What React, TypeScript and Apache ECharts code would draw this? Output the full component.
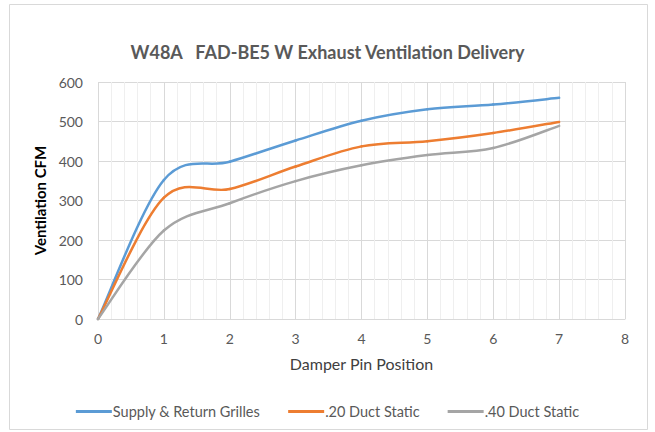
import React, { useEffect, useRef } from "react";
import * as echarts from "echarts";

const pinPositions = [0, 1, 2, 3, 4, 5, 6, 7];
const supplyReturn = [0, 352, 398, 452, 502, 531, 543, 560];
const duct20 = [0, 307, 329, 386, 437, 450, 471, 499];
const duct40 = [0, 224, 293, 349, 389, 415, 433, 489];
const seriesNames = ["Supply & Return Grilles", ".20 Duct Static", ".40 Duct Static"];
const colors = ["#5B9BD5", "#ED7D31", "#A5A5A5"];

const FONT = "Lato, 'Open Sans', sans-serif";

export default function App() {
  const ref = useRef<HTMLDivElement>(null);
  useEffect(() => {
    if (!ref.current) return;
    const chart = echarts.init(ref.current, undefined, { renderer: "svg" });
    const all = [supplyReturn, duct20, duct40];

    const makeRenderItem = (vals: number[], color: string) => (params: any, api: any) => {
      const i = params.dataIndex;
      const n = pinPositions.length;
      if (i >= n - 1) return null;
      const pt = (k: number) => {
        const kk = Math.max(0, Math.min(n - 1, k));
        return api.coord([pinPositions[kk], vals[kk]]);
      };
      const p0 = pt(i - 1);
      const p1 = pt(i);
      const p2 = pt(i + 1);
      const p3 = pt(i + 2);
      const c1 = [p1[0] + (p2[0] - p0[0]) / 6, p1[1] + (p2[1] - p0[1]) / 6];
      const c2 = [p2[0] - (p3[0] - p1[0]) / 6, p2[1] - (p3[1] - p1[1]) / 6];
      return {
        type: "bezierCurve",
        shape: {
          x1: p1[0], y1: p1[1],
          x2: p2[0], y2: p2[1],
          cpx1: c1[0], cpy1: c1[1],
          cpx2: c2[0], cpy2: c2[1],
        },
        style: { stroke: color, lineWidth: 2.5, fill: "none", lineCap: "round" },
      };
    };

    chart.setOption({
      animation: false,
      backgroundColor: "#ffffff",
      textStyle: { fontFamily: FONT },
      title: {
        text: "W48A   FAD-BE5 W Exhaust Ventilation Delivery",
        left: "center",
        top: 38,
        textStyle: { fontFamily: FONT, fontSize: 18, fontWeight: "bold", color: "#595959" },
      },
      graphic: [
        {
          type: "rect",
          shape: { x: 9.5, y: 4.5, width: 638, height: 425 },
          style: { fill: "none", stroke: "#d9d9d9", lineWidth: 1 },
          silent: true,
          z: -1,
        },
      ],
      grid: { left: 98, right: 30, top: 82, bottom: 113 },
      legend: {
        top: 399,
        left: "center",
        itemWidth: 36,
        itemHeight: 3,
        itemGap: 28,
        icon: "rect",
        textStyle: { fontFamily: FONT, fontSize: 14.5, color: "#595959", padding: [0, 0, 0, -4] },
        data: seriesNames,
      },
      xAxis: {
        type: "value",
        min: 0,
        max: 8,
        interval: 1,
        name: "Damper Pin Position",
        nameLocation: "middle",
        nameGap: 36,
        nameTextStyle: { fontFamily: FONT, fontSize: 16, color: "#404040" },
        axisLine: { show: true, lineStyle: { color: "#d9d9d9" } },
        axisTick: { show: false },
        axisLabel: { margin: 12, fontSize: 14, color: "#595959", fontFamily: FONT },
        splitLine: { show: true, lineStyle: { color: "#d9d9d9" } },
        minorTick: { show: false, splitNumber: 5 },
        minorSplitLine: { show: true, lineStyle: { color: "#efefef" } },
      },
      yAxis: {
        type: "value",
        min: 0,
        max: 600,
        interval: 100,
        name: "Ventilation CFM",
        nameLocation: "middle",
        nameGap: 48,
        nameTextStyle: { fontFamily: FONT, fontSize: 15, fontWeight: "bold", color: "#000000" },
        axisLine: { show: false },
        axisTick: { show: false },
        axisLabel: { margin: 15, fontSize: 14, color: "#595959", fontFamily: FONT },
        splitLine: { show: true, lineStyle: { color: "#d9d9d9" } },
      },
      series: all.map((vals, i) => ({
        name: seriesNames[i],
        type: "custom",
        renderItem: makeRenderItem(vals, colors[i]),
        itemStyle: { color: colors[i] },
        encode: { x: 0, y: 1 },
        data: pinPositions.map((x, j) => [x, vals[j]]),
      })),
    });
    return () => chart.dispose();
  }, []);
  return (
    <div
      ref={ref}
      style={{ position: "absolute", left: 0, top: 0, width: 655, height: 432 }}
    />
  );
}
